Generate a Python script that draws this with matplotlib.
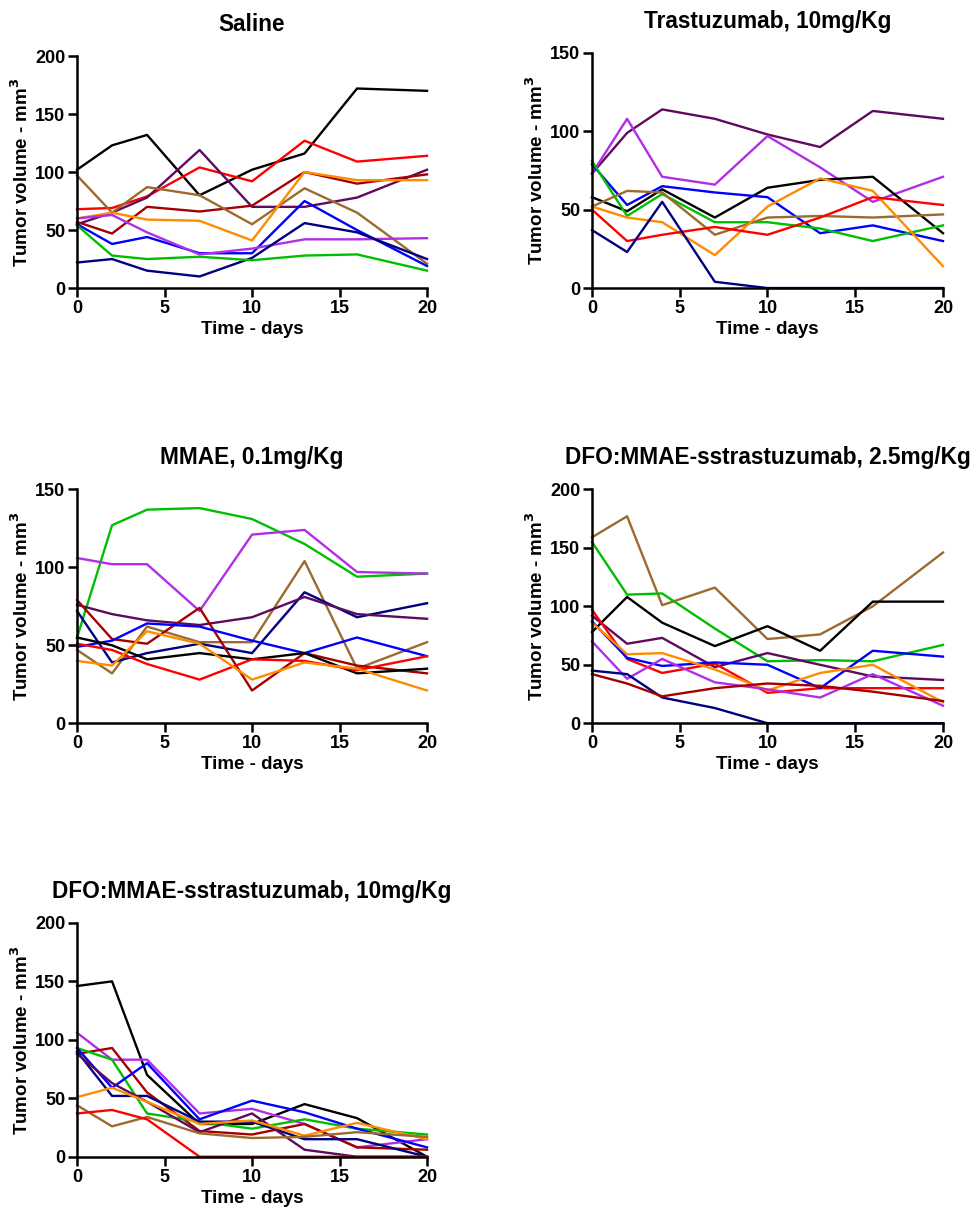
import matplotlib
matplotlib.use("Agg")
import matplotlib.pyplot as plt

plt.rcParams['font.family'] = ['Liberation Sans', 'DejaVu Sans']
plt.rcParams['font.weight'] = 'bold'

dias = [0, 2, 4, 7, 10, 13, 16, 20]

colores = {
    "negro": "#000000",
    "rojo": "#ff0000",
    "purpura": "#5e0a5e",
    "granate": "#a50000",
    "marron": "#9c6a2e",
    "naranja": "#ff8c00",
    "azul": "#0000ff",
    "violeta": "#b22ee6",
    "marino": "#000080",
    "verde": "#00bf00",
}

# Saline
saline_negro = [102, 123, 132, 80, 102, 116, 172, 170]
saline_rojo = [68, 69, 79, 104, 92, 127, 109, 114]
saline_purpura = [55, 65, 78, 119, 70, 70, 78, 102]
saline_granate = [57, 47, 70, 66, 71, 100, 90, 98]
saline_marron = [97, 65, 87, 80, 55, 86, 65, 21]
saline_naranja = [60, 65, 59, 58, 41, 100, 93, 93]
saline_azul = [55, 38, 44, 30, 30, 75, 50, 19]
saline_violeta = [60, 63, 48, 29, 34, 42, 42, 43]
saline_marino = [22, 25, 15, 10, 26, 56, 48, 25]
saline_verde = [54, 28, 25, 27, 24, 28, 29, 15]

# Trastuzumab 10 mg/Kg
tras_purpura = [73, 99, 114, 108, 98, 90, 113, 108]
tras_violeta = [73, 108, 71, 66, 97, 77, 55, 71]
tras_negro = [58, 49, 63, 45, 64, 69, 71, 35]
tras_azul = [79, 53, 65, 61, 58, 35, 40, 30]
tras_verde = [81, 46, 60, 42, 42, 38, 30, 40]
tras_marron = [52, 62, 61, 34, 45, 46, 45, 47]
tras_naranja = [52, 45, 42, 21, 52, 70, 62, 14]
tras_rojo = [50, 30, 34, 39, 34, 45, 58, 53]
tras_marino = [37, 23, 55, 4, 0, 0, 0, 0]

# MMAE 0.1 mg/Kg
mmae_verde = [55, 127, 137, 138, 131, 115, 94, 96]
mmae_violeta = [106, 102, 102, 72, 121, 124, 97, 96]
mmae_marron = [47, 32, 62, 52, 52, 104, 35, 52]
mmae_marino = [72, 39, 45, 51, 45, 84, 68, 77]
mmae_purpura = [76, 70, 66, 63, 68, 81, 70, 67]
mmae_granate = [79, 54, 51, 74, 21, 45, 37, 32]
mmae_azul = [49, 53, 64, 62, 53, 45, 55, 43]
mmae_negro = [55, 50, 41, 45, 41, 45, 32, 35]
mmae_rojo = [51, 47, 38, 28, 41, 40, 34, 43]
mmae_naranja = [40, 37, 59, 51, 28, 39, 35, 21]

# DFO:MMAE-sstrastuzumab 2.5 mg/Kg
d25_marron = [159, 177, 101, 116, 72, 76, 100, 146]
d25_verde = [155, 110, 111, 81, 53, 54, 53, 67]
d25_negro = [78, 108, 86, 66, 83, 62, 104, 104]
d25_purpura = [92, 68, 73, 48, 60, 50, 40, 37]
d25_rojo = [97, 55, 43, 51, 26, 30, 30, 30]
d25_azul = [87, 56, 49, 52, 50, 30, 62, 57]
d25_naranja = [86, 59, 60, 46, 28, 43, 50, 18]
d25_violeta = [70, 38, 55, 35, 29, 22, 42, 15]
d25_marino = [45, 42, 22, 13, 0, 0, 0, 0]
d25_granate = [42, 34, 23, 30, 34, 32, 27, 19]

# DFO:MMAE-sstrastuzumab 10 mg/Kg
d10_negro = [146, 150, 70, 28, 28, 45, 33, 0]
d10_violeta = [106, 83, 83, 37, 41, 28, 8, 15]
d10_granate = [88, 93, 55, 22, 19, 28, 8, 6]
d10_verde = [93, 83, 37, 30, 24, 32, 24, 19]
d10_azul = [93, 59, 80, 32, 48, 38, 24, 8]
d10_marino = [90, 52, 52, 30, 30, 15, 15, 0]
d10_purpura = [88, 63, 47, 21, 37, 6, 0, 0]
d10_naranja = [51, 59, 47, 28, 31, 18, 29, 15]
d10_marron = [44, 26, 34, 20, 16, 17, 21, 17]
d10_rojo = [37, 40, 32, 0, 0, 0, 0, 0]


def dibujar_panel(ax, titulo, series, ymax, paso):
    for nombre, valores in series:
        ax.plot(dias, valores, color=colores[nombre], linewidth=1.7, clip_on=False)
    ax.set_xlim(0, 20)
    ax.set_ylim(0, ymax)
    ax.set_xticks([0, 5, 10, 15, 20])
    ax.set_yticks(range(0, ymax + 1, paso))
    ax.spines['top'].set_visible(False)
    ax.spines['right'].set_visible(False)
    ax.spines['left'].set_linewidth(1.8)
    ax.spines['bottom'].set_linewidth(1.8)
    ax.tick_params(width=1.8, length=6.5, pad=2, labelsize=13)
    for etiqueta in ax.get_xticklabels() + ax.get_yticklabels():
        etiqueta.set_fontweight('bold')
    ax.set_title(titulo, fontsize=16.3, fontweight='bold', pad=18)
    ax.set_xlabel("Time - days", fontsize=13.5, fontweight='bold', labelpad=3)
    ax.set_ylabel("Tumor volume - mm$^\\mathbf{3}$", fontsize=13.5, fontweight='bold', labelpad=2)


fig = plt.figure(figsize=(9.79, 12.18), dpi=100)

ax1 = fig.add_axes([0.0787, 0.7635, 0.3575, 0.1905])
dibujar_panel(ax1, "Saline", [
    ("negro", saline_negro), ("rojo", saline_rojo), ("purpura", saline_purpura),
    ("granate", saline_granate), ("marron", saline_marron), ("naranja", saline_naranja),
    ("azul", saline_azul), ("violeta", saline_violeta), ("marino", saline_marino),
    ("verde", saline_verde)], 200, 50)

ax2 = fig.add_axes([0.6047, 0.7635, 0.3585, 0.1930])
dibujar_panel(ax2, "Trastuzumab, 10mg/Kg", [
    ("purpura", tras_purpura), ("violeta", tras_violeta), ("negro", tras_negro),
    ("azul", tras_azul), ("verde", tras_verde), ("marron", tras_marron),
    ("naranja", tras_naranja), ("rojo", tras_rojo), ("marino", tras_marino)], 150, 50)

ax3 = fig.add_axes([0.0787, 0.4062, 0.3575, 0.1920])
dibujar_panel(ax3, "MMAE, 0.1mg/Kg", [
    ("verde", mmae_verde), ("violeta", mmae_violeta), ("marron", mmae_marron),
    ("marino", mmae_marino), ("purpura", mmae_purpura), ("granate", mmae_granate),
    ("azul", mmae_azul), ("negro", mmae_negro), ("rojo", mmae_rojo),
    ("naranja", mmae_naranja)], 150, 50)

ax4 = fig.add_axes([0.6047, 0.4062, 0.3585, 0.1920])
dibujar_panel(ax4, "DFO:MMAE-sstrastuzumab, 2.5mg/Kg", [
    ("marron", d25_marron), ("verde", d25_verde), ("negro", d25_negro),
    ("purpura", d25_purpura), ("rojo", d25_rojo), ("azul", d25_azul),
    ("naranja", d25_naranja), ("violeta", d25_violeta), ("marino", d25_marino),
    ("granate", d25_granate)], 200, 50)

ax5 = fig.add_axes([0.0787, 0.0503, 0.3575, 0.1920])
dibujar_panel(ax5, "DFO:MMAE-sstrastuzumab, 10mg/Kg", [
    ("negro", d10_negro), ("violeta", d10_violeta), ("granate", d10_granate),
    ("verde", d10_verde), ("azul", d10_azul), ("marino", d10_marino),
    ("purpura", d10_purpura), ("naranja", d10_naranja), ("marron", d10_marron),
    ("rojo", d10_rojo)], 200, 50)

fig.savefig("out.png", dpi=100)
